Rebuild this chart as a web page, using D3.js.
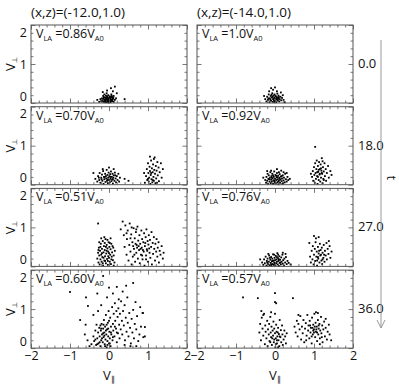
<!DOCTYPE html>
<html>
<head>
<meta charset="utf-8">
<script src="https://cdn.jsdelivr.net/npm/d3@7"></script>
<style>
  body { margin: 0; background: #fff; }
  svg { display: block; font-family: "Open Sans", sans-serif; }
</style>
</head>
<body>
<svg id="chart" width="399" height="385"></svg>
<script>
// ---- labels ----
const COLUMN_TITLES = ["(x,z)=(-12.0,1.0)", "(x,z)=(-14.0,1.0)"];
const TIMES = ["0.0", "18.0", "27.0", "36.0"];
const VLA_LEFT = ["0.86", "0.70", "0.51", "0.60"];
const VLA_RIGHT = ["1.0", "0.92", "0.76", "0.57"];
const X_TICKS = [-2, -1, 0, 1, 2];
const Y_TICKS = [0, 1, 2];

// ---- particle positions [V_par, V_perp] ----
const left_t0 = [[-0.20,0.05],[-0.18,0.12],[-0.15,0.03],[-0.15,0.18],[-0.12,0.08],[-0.12,0.22],[-0.10,0.02],[-0.10,0.14],[-0.08,0.06],[-0.08,0.19],[-0.06,0.10],[-0.06,0.25],[-0.04,0.03],[-0.04,0.15],[-0.02,0.08],[-0.02,0.20],[0.00,0.04],[0.00,0.12],[0.02,0.17],[0.02,0.07],[0.04,0.02],[0.04,0.13],[0.06,0.09],[0.06,0.22],[0.08,0.05],[0.08,0.15],[0.10,0.11],[0.12,0.03],[0.12,0.18],[0.15,0.08],[-0.22,0.10],[-0.17,0.07],[-0.13,0.15],[-0.09,0.10],[-0.07,0.02],[-0.05,0.17],[-0.03,0.11],[-0.01,0.01],[0.01,0.14],[0.03,0.10],[0.05,0.05],[0.07,0.18],[0.09,0.08],[0.11,0.13],[-0.14,0.11],[-0.11,0.05],[-0.07,0.13],[-0.03,0.06],[0.01,0.09],[0.05,0.15],[-0.25,0.03],[0.18,0.12],[-0.16,0.28],[0.10,0.30],[0.05,0.38],[-0.05,0.32],[0.20,0.25],[0.40,0.10],[-0.30,0.08],[0.15,0.42]];

const right_t0 = [[-0.25,0.10],[-0.22,0.04],[-0.20,0.16],[-0.18,0.08],[-0.16,0.22],[-0.14,0.02],[-0.13,0.12],[-0.11,0.18],[-0.10,0.06],[-0.08,0.14],[-0.07,0.25],[-0.06,0.03],[-0.05,0.10],[-0.04,0.19],[-0.03,0.07],[-0.02,0.13],[-0.01,0.22],[0.00,0.05],[0.01,0.11],[0.02,0.17],[0.03,0.02],[0.04,0.09],[0.05,0.15],[0.06,0.24],[0.07,0.06],[0.08,0.12],[0.09,0.19],[0.11,0.04],[0.12,0.10],[0.14,0.16],[0.16,0.07],[0.18,0.13],[-0.17,0.12],[-0.12,0.08],[-0.09,0.21],[-0.06,0.16],[-0.02,0.02],[0.01,0.18],[0.04,0.13],[0.07,0.09],[0.10,0.15],[-0.15,0.30],[-0.05,0.34],[0.05,0.30],[0.15,0.27],[-0.28,0.18],[0.22,0.08],[0.25,0.02],[0.00,0.40],[-0.10,0.38],[0.20,0.20]];

const left_t18 = [[-0.35,0.15],[-0.30,0.08],[-0.28,0.22],[-0.25,0.12],[-0.24,0.30],[-0.22,0.05],[-0.20,0.18],[-0.18,0.26],[-0.17,0.10],[-0.15,0.35],[-0.14,0.02],[-0.13,0.20],[-0.12,0.14],[-0.10,0.28],[-0.09,0.07],[-0.08,0.22],[-0.07,0.16],[-0.06,0.38],[-0.05,0.10],[-0.04,0.25],[-0.03,0.04],[-0.02,0.18],[-0.01,0.31],[0.00,0.12],[0.01,0.22],[0.02,0.06],[0.03,0.27],[0.04,0.15],[0.05,0.34],[0.06,0.09],[0.07,0.20],[0.08,0.13],[0.09,0.28],[0.10,0.03],[0.11,0.18],[0.12,0.24],[0.14,0.10],[0.15,0.31],[0.17,0.16],[0.18,0.06],[0.20,0.22],[0.22,0.12],[0.24,0.28],[0.26,0.08],[0.28,0.18],[-0.26,0.18],[-0.19,0.14],[-0.11,0.19],[-0.04,0.13],[0.03,0.20],[0.10,0.14],[0.16,0.24],[-0.16,0.40],[0.00,0.44],[0.12,0.40],[0.40,0.15],[0.50,0.10],[-0.40,0.30],
  [0.92,0.05],[0.95,0.22],[0.97,0.40],[0.98,0.12],[1.00,0.55],[1.01,0.30],[1.02,0.08],[1.03,0.18],[1.04,0.46],[1.05,0.35],[1.06,0.02],[1.07,0.25],[1.08,0.62],[1.09,0.14],[1.10,0.42],[1.11,0.06],[1.12,0.32],[1.13,0.52],[1.14,0.20],[1.15,0.10],[1.16,0.38],[1.17,0.70],[1.18,0.28],[1.19,0.04],[1.20,0.48],[1.21,0.16],[1.22,0.36],[1.24,0.58],[1.25,0.24],[1.27,0.44],[1.28,0.09],[1.30,0.32],[1.33,0.55],[1.35,0.18],[1.05,0.72],[1.15,0.66],[1.00,0.15],[1.12,0.12],[1.08,0.30],[1.23,0.05],[0.90,0.30],[1.38,0.40]];

const right_t18 = [[-0.25,0.12],[-0.23,0.05],[-0.22,0.20],[-0.20,0.10],[-0.19,0.28],[-0.18,0.02],[-0.17,0.15],[-0.16,0.24],[-0.14,0.08],[-0.13,0.18],[-0.12,0.32],[-0.11,0.04],[-0.10,0.13],[-0.09,0.22],[-0.08,0.08],[-0.07,0.28],[-0.06,0.16],[-0.05,0.02],[-0.04,0.11],[-0.03,0.20],[-0.02,0.34],[-0.01,0.07],[0.00,0.15],[0.01,0.25],[0.02,0.03],[0.03,0.12],[0.04,0.19],[0.05,0.30],[0.06,0.06],[0.07,0.14],[0.08,0.23],[0.09,0.01],[0.10,0.10],[0.11,0.18],[0.12,0.27],[0.13,0.05],[0.14,0.13],[0.15,0.21],[0.16,0.36],[0.17,0.09],[0.18,0.16],[0.19,0.02],[0.20,0.24],[0.22,0.11],[0.23,0.18],[0.25,0.06],[0.26,0.28],[0.28,0.14],[0.30,0.08],[0.32,0.20],[0.34,0.12],[-0.15,0.14],[-0.08,0.18],[-0.02,0.10],[0.03,0.23],[0.08,0.08],[0.12,0.15],[0.17,0.22],[0.21,0.04],[-0.05,0.24],[0.00,0.05],[0.06,0.19],[0.10,0.32],[-0.10,0.36],[0.22,0.32],[0.38,0.15],[-0.30,0.18],[0.30,0.30],[0.05,0.40],[-0.20,0.35],
  [0.95,0.20],[0.97,0.35],[0.98,0.10],[1.00,0.45],[1.01,0.25],[1.02,0.05],[1.03,0.55],[1.04,0.30],[1.05,0.15],[1.06,0.40],[1.07,0.62],[1.08,0.22],[1.09,0.02],[1.10,0.48],[1.11,0.33],[1.12,0.12],[1.13,0.58],[1.14,0.26],[1.15,0.40],[1.16,0.08],[1.17,0.52],[1.18,0.18],[1.19,0.36],[1.20,0.68],[1.21,0.28],[1.22,0.04],[1.23,0.45],[1.24,0.15],[1.25,0.34],[1.27,0.55],[1.28,0.22],[1.30,0.40],[1.31,0.10],[1.33,0.30],[1.36,0.48],[1.38,0.18],[1.42,0.35],[1.45,0.25],[1.10,0.20],[1.15,0.28],[1.20,0.30],[1.12,0.38],[1.18,0.42],[1.08,0.32],[1.25,0.12],[0.92,0.28],[1.03,0.97],[1.22,0.60]];

const left_t27 = [[-0.30,0.20],[-0.28,0.35],[-0.27,0.10],[-0.26,0.48],[-0.25,0.28],[-0.24,0.05],[-0.23,0.40],[-0.22,0.18],[-0.21,0.58],[-0.20,0.30],[-0.19,0.12],[-0.18,0.45],[-0.17,0.24],[-0.16,0.65],[-0.15,0.02],[-0.14,0.36],[-0.13,0.52],[-0.12,0.15],[-0.11,0.42],[-0.10,0.26],[-0.09,0.70],[-0.08,0.08],[-0.07,0.33],[-0.06,0.55],[-0.05,0.19],[-0.04,0.46],[-0.03,0.04],[-0.02,0.38],[-0.01,0.62],[0.00,0.22],[0.01,0.50],[0.02,0.12],[0.03,0.30],[0.04,0.44],[0.05,0.06],[0.06,0.58],[0.07,0.25],[0.08,0.36],[0.10,0.16],[0.11,0.48],[0.12,0.28],[0.14,0.10],[0.15,0.40],[-0.25,0.62],[-0.20,0.72],[-0.12,0.75],[-0.04,0.68],[0.04,0.72],[-0.18,0.34],[-0.10,0.14],[-0.06,0.40],[-0.02,0.26],[0.02,0.60],[0.06,0.18],[-0.14,0.22],[-0.08,0.50],[0.00,0.34],[-0.22,0.50],[-0.16,0.08],[0.09,0.52],[-0.27,0.42],[0.12,0.02],[-0.03,0.14],[-0.11,0.60],
  [0.30,0.95],[0.35,1.15],[0.38,0.80],[0.40,0.50],[0.42,1.05],[0.45,0.30],[0.46,0.70],[0.48,0.92],[0.50,0.15],[0.52,0.55],[0.53,1.10],[0.55,0.38],[0.57,0.82],[0.58,0.05],[0.60,0.62],[0.61,0.25],[0.63,0.98],[0.64,0.45],[0.66,0.72],[0.67,0.12],[0.69,0.88],[0.70,0.35],[0.71,0.55],[0.73,1.02],[0.74,0.20],[0.75,0.66],[0.77,0.42],[0.78,0.80],[0.79,0.08],[0.80,0.58],[0.82,0.30],[0.83,0.92],[0.84,0.48],[0.85,0.70],[0.86,0.18],[0.88,0.62],[0.89,0.38],[0.90,0.85],[0.91,0.02],[0.92,0.52],[0.94,0.75],[0.95,0.28],[0.96,0.95],[0.97,0.44],[0.99,0.65],[1.00,0.12],[1.01,0.56],[1.02,0.80],[1.04,0.35],[1.05,0.68],[1.06,0.22],[1.08,0.50],[1.09,0.88],[1.10,0.05],[1.12,0.60],[1.13,0.32],[1.15,0.75],[1.16,0.45],[1.18,0.15],[1.19,0.58],[1.21,0.38],[1.22,0.70],[1.24,0.25],[1.25,0.48],[1.27,0.62],[1.28,0.10],[1.30,0.40],[1.32,0.30],[1.35,0.52],[1.38,0.20],[1.40,0.35],[0.62,0.52],[0.68,0.58],[0.72,0.48],[0.76,0.52],[0.81,0.45],[0.87,0.42],[0.93,0.60],[0.98,0.40],[1.03,0.46],[0.55,0.72],[0.65,0.30],[0.85,0.28],[0.95,0.18],[0.70,0.95],[0.58,1.00],[0.45,0.85],[-0.28,1.10]];

const right_t27 = [[-0.33,0.10],[-0.30,0.04],[-0.28,0.18],[-0.26,0.08],[-0.24,0.25],[-0.22,0.02],[-0.21,0.14],[-0.19,0.20],[-0.18,0.06],[-0.16,0.12],[-0.15,0.28],[-0.14,0.03],[-0.12,0.17],[-0.11,0.09],[-0.10,0.24],[-0.09,0.01],[-0.08,0.13],[-0.07,0.20],[-0.06,0.06],[-0.05,0.31],[-0.04,0.15],[-0.03,0.04],[-0.02,0.10],[-0.01,0.22],[0.00,0.16],[0.01,0.02],[0.02,0.27],[0.03,0.08],[0.04,0.18],[0.05,0.12],[0.06,0.34],[0.07,0.05],[0.08,0.21],[0.09,0.14],[0.10,0.01],[0.11,0.26],[0.12,0.09],[0.13,0.17],[0.15,0.05],[0.16,0.23],[0.17,0.12],[0.19,0.30],[0.20,0.07],[0.21,0.16],[0.23,0.02],[0.24,0.20],[0.26,0.10],[0.28,0.24],[0.30,0.06],[0.32,0.14],[0.35,0.09],[-0.20,0.10],[-0.13,0.22],[-0.06,0.14],[0.00,0.08],[0.05,0.24],[0.10,0.18],[0.14,0.10],[-0.10,0.05],[-0.02,0.30],[0.08,0.30],[-0.17,0.32],[0.20,0.35],[0.27,0.32],[-0.38,0.18],[0.40,0.05],
  [0.90,0.25],[0.92,0.10],[0.94,0.40],[0.96,0.18],[0.97,0.52],[0.99,0.05],[1.00,0.30],[1.02,0.45],[1.03,0.14],[1.04,0.62],[1.06,0.25],[1.07,0.38],[1.08,0.02],[1.10,0.50],[1.11,0.20],[1.12,0.33],[1.14,0.10],[1.15,0.58],[1.16,0.28],[1.17,0.42],[1.19,0.15],[1.20,0.48],[1.21,0.06],[1.22,0.35],[1.24,0.22],[1.25,0.55],[1.27,0.12],[1.28,0.40],[1.30,0.28],[1.32,0.60],[1.33,0.18],[1.35,0.45],[1.37,0.32],[1.40,0.52],[1.42,0.22],[1.45,0.38],[1.05,0.72],[1.12,0.75],[1.00,0.78],[1.18,0.30],[1.10,0.24],[1.13,0.40],[1.22,0.18],[1.08,0.15],[1.26,0.30],[0.88,0.60],[1.38,0.65]];

const left_t36 = [[-0.40,0.30],[-0.38,0.18],[-0.35,0.45],[-0.33,0.08],[-0.32,0.60],[-0.30,0.25],[-0.28,0.40],[-0.27,0.12],[-0.25,0.52],[-0.24,0.30],[-0.22,0.05],[-0.21,0.45],[-0.20,0.20],[-0.19,0.62],[-0.18,0.35],[-0.16,0.15],[-0.15,0.50],[-0.14,0.28],[-0.13,0.72],[-0.12,0.40],[-0.11,0.10],[-0.10,0.55],[-0.09,0.22],[-0.08,0.85],[-0.07,0.35],[-0.06,0.02],[-0.05,0.48],[-0.04,0.18],[-0.03,0.65],[-0.02,0.30],[-0.01,0.95],[0.00,0.12],[0.01,0.42],[0.02,0.25],[0.03,0.78],[0.04,0.05],[0.05,0.55],[0.06,0.35],[0.08,1.05],[0.09,0.20],[0.10,0.62],[0.11,0.45],[0.12,0.88],[0.14,0.30],[0.15,1.15],[0.16,0.70],[0.18,0.50],[0.19,0.95],[0.20,0.15],[0.22,0.80],[0.23,0.38],[0.24,1.02],[0.26,0.60],[0.27,0.25],[0.28,0.88],[0.30,0.48],[0.31,1.20],[0.33,0.70],[0.34,0.35],[0.36,0.95],[0.38,0.58],[0.40,1.10],[0.41,0.20],[0.43,0.78],[0.45,0.42],[0.47,1.30],[0.48,0.65],[0.50,0.30],[0.52,0.90],[0.54,0.52],[0.56,0.12],[0.58,0.75],[0.60,0.40],[0.62,0.98],[0.64,0.25],[0.66,0.62],[0.70,0.48],[0.72,0.82],[0.75,0.18],[0.78,0.35],[0.82,0.55],[0.86,0.90],[0.92,0.54],[0.88,0.28],[0.80,1.05],[0.68,1.18],[-0.02,0.50],[-0.08,0.45],[-0.14,0.60],[-0.20,0.50],[-0.06,0.60],[0.00,0.70],[0.05,0.40],[-0.12,0.32],[-0.18,0.25],[-0.24,0.15],[-0.30,0.10],[-0.10,0.05],[-0.04,0.08],[0.02,0.12],[-0.15,0.38],[-0.22,0.58],[0.10,0.28],[0.15,0.55],[0.20,0.40],[-0.35,0.22],[-0.45,0.10],[-0.50,0.05],[-0.55,0.20],[-0.62,0.35],[-0.74,0.72],[-0.54,1.08],[-0.59,1.30],[-1.00,1.44],[-0.30,1.40],[-0.15,1.85],[0.44,1.60],[0.20,1.57],[0.62,1.67],[0.35,1.45],[-0.05,1.30],[0.10,1.40],[0.25,1.25],[-0.20,1.10],[-0.40,0.85],[-0.28,0.95],[0.87,0.90],[0.92,0.30],[0.70,0.05],[0.55,0.05],[0.40,0.08],[-0.60,0.60],[0.00,1.55]];

const right_t36 = [[-0.40,0.40],[-0.38,0.62],[-0.36,0.20],[-0.34,0.78],[-0.32,0.50],[-0.30,0.32],[-0.28,0.88],[-0.26,0.10],[-0.25,0.58],[-0.24,0.42],[-0.22,0.25],[-0.20,0.70],[-0.19,0.05],[-0.18,0.48],[-0.16,0.35],[-0.15,0.62],[-0.14,0.18],[-0.12,0.80],[-0.11,0.40],[-0.10,0.28],[-0.09,0.55],[-0.08,0.08],[-0.06,0.45],[-0.05,0.32],[-0.04,0.68],[-0.03,0.15],[-0.02,0.50],[0.00,0.38],[0.01,0.02],[0.02,0.25],[0.03,0.60],[0.04,0.42],[0.05,0.12],[0.06,0.30],[0.08,0.52],[0.09,0.20],[0.10,0.36],[0.11,0.05],[0.12,0.72],[0.14,0.28],[0.15,0.46],[0.16,0.15],[0.18,0.58],[0.19,0.35],[0.20,0.08],[0.22,0.22],[0.24,0.45],[0.26,0.30],[0.28,0.12],[0.30,0.38],[-0.02,0.22],[0.05,0.20],[0.07,0.40],[-0.07,0.25],[0.12,0.30],[0.02,0.10],[-0.12,0.15],[0.08,0.02],[-0.30,0.85],[0.00,0.88],
  [0.50,0.55],[0.53,0.40],[0.56,0.70],[0.58,0.30],[0.60,0.62],[0.63,0.48],[0.65,0.82],[0.67,0.22],[0.69,0.55],[0.71,0.38],[0.73,0.72],[0.75,0.15],[0.77,0.50],[0.79,0.64],[0.81,0.32],[0.83,0.85],[0.85,0.45],[0.86,0.58],[0.88,0.25],[0.89,0.70],[0.91,0.40],[0.92,0.52],[0.94,0.12],[0.95,0.78],[0.97,0.35],[0.98,0.60],[1.00,0.48],[1.01,0.88],[1.03,0.28],[1.04,0.65],[1.05,0.42],[1.07,0.55],[1.08,0.18],[1.10,0.72],[1.11,0.35],[1.12,0.50],[1.14,0.62],[1.15,0.25],[1.16,0.45],[1.18,0.80],[1.19,0.38],[1.21,0.58],[1.22,0.15],[1.24,0.48],[1.26,0.68],[1.28,0.30],[1.30,0.52],[1.33,0.22],[1.35,0.42],[1.38,0.60],[1.40,0.35],[1.44,0.20],[1.00,0.40],[0.96,0.52],[1.02,0.55],[1.06,0.48],[0.90,0.58],[1.08,0.40],[0.98,0.45],[1.12,0.58],[0.94,0.30],[1.20,0.28],[0.80,0.20],[1.15,0.10],[1.05,0.92],[1.10,0.90],[1.30,0.75],[0.60,0.85],
  [-0.82,1.30],[-0.44,1.28],[0.00,1.41],[0.00,1.18],[0.03,1.15],[0.46,1.28],[-0.35,0.95],[-0.10,0.92]];

const PANELS = [
  [left_t0, right_t0],
  [left_t18, right_t18],
  [left_t27, right_t27],
  [left_t36, right_t36]
];

// ---- layout ----
const svg = d3.select("#chart");
const colX = [31, 197];
const top0 = 25, rowPitch = 81.7;
const pw = 156, ph = 78;
const FONT = 13;

const x = d3.scaleLinear().domain([-2, 2]).range([0, pw]);
const y = d3.scaleLinear().domain([0, 2]).range([ph, 0]);
const minorX = d3.range(-10, 11).map(i => i / 5).filter(v => !Number.isInteger(v));
const minorY = d3.range(0, 11).map(i => i / 5).filter(v => !Number.isInteger(v));

function tickSet(g, axisFn, scale, values, size, labeled, pad) {
  const ax = axisFn(scale).tickValues(values).tickSizeInner(-size).tickSizeOuter(0).tickPadding(pad || 4);
  ax.tickFormat(labeled ? d3.format("d") : "");
  const s = g.append("g").call(ax);
  s.select(".domain").remove();
  s.attr("font-family", null).attr("font-size", FONT);
  s.selectAll("line").attr("stroke", "#555").attr("stroke-width", 0.8);
  s.selectAll("text").attr("fill", "#111");
  return s;
}

function subLabel(t, parts, subSize, shift) {
  // parts: [text, isSub]
  const d = shift || 3;
  let shifted = false;
  parts.forEach(([str, sub]) => {
    const ts = t.append("tspan").text(str);
    if (sub) ts.attr("font-size", subSize || 7.5);
    if (sub && !shifted) { ts.attr("dy", d); shifted = true; }
    else if (!sub && shifted) { ts.attr("dy", -d); shifted = false; }
  });
}

// column titles
COLUMN_TITLES.forEach((t, c) => {
  svg.append("text").attr("x", colX[c]).attr("y", 17)
    .attr("font-size", 13.5).attr("fill", "#111").text(t);
});

PANELS.forEach((row, r) => {
  const py = top0 + r * rowPitch;
  row.forEach((pts, c) => {
    const g = svg.append("g").attr("transform", `translate(${colX[c]},${py})`);
    const bottomRow = r === PANELS.length - 1;

    // dots
    g.append("g").selectAll("rect").data(pts).enter().append("rect")
      .attr("x", d => x(d[0]) - 0.9).attr("y", d => y(d[1]) - 0.9)
      .attr("width", 1.8).attr("height", 1.8).attr("fill", "#000");

    // ticks on all four sides, pointing inward
    const bot = g.append("g").attr("transform", `translate(0,${ph})`);
    tickSet(bot, d3.axisBottom, x, X_TICKS, 4.5, bottomRow, 3).attr("font-size", 12.5);
    tickSet(bot, d3.axisBottom, x, minorX, 2.5, false);
    tickSet(g, d3.axisTop, x, X_TICKS, 4.5, false);
    tickSet(g, d3.axisTop, x, minorX, 2.5, false);
    const yl = tickSet(g, d3.axisLeft, y, Y_TICKS, 4.5, c === 0);
    // end labels sit just inside the frame, as in the source figure
    yl.attr("font-size", 12.5);
    yl.selectAll(".tick text").attr("dy", v => v === 0 ? "-3px" : v === 2 ? "11px" : "0.32em");
    tickSet(g, d3.axisLeft, y, minorY, 2.5, false);
    const rt = g.append("g").attr("transform", `translate(${pw},0)`);
    tickSet(rt, d3.axisRight, y, Y_TICKS, 4.5, false);
    tickSet(rt, d3.axisRight, y, minorY, 2.5, false);

    g.append("rect").attr("width", pw).attr("height", ph)
      .attr("fill", "none").attr("stroke", "#555").attr("stroke-width", 1);

    // V_LA label
    const vla = c === 0 ? VLA_LEFT[r] : VLA_RIGHT[r];
    const lab = g.append("text").attr("x", 5).attr("y", 13)
      .attr("font-size", 12.5).attr("fill", "#111");
    subLabel(lab, [["V", false], ["LA", true], [" =" + vla + "V", false], ["A0", true]]);

    // y title on left column
    if (c === 0) {
      const yt = svg.append("text")
        .attr("transform", `translate(15,${py + ph / 2}) rotate(-90)`)
        .attr("text-anchor", "middle").attr("font-size", FONT).attr("fill", "#111");
      subLabel(yt, [["V", false], ["\u22A5", true]], 7, 2);
    }

    // x title under bottom row
    if (bottomRow) {
      const xt = svg.append("text")
        .attr("x", colX[c] + x(0)).attr("y", 380)
        .attr("text-anchor", "middle").attr("font-size", FONT).attr("fill", "#111");
      subLabel(xt, [["V", false], ["\u2225", true]], 7.5, 2);
    }
  });

  // time label
  svg.append("text").attr("x", 358).attr("y", py + ph / 2 + 4)
    .attr("font-size", FONT).attr("fill", "#111").text(TIMES[r]);
});

// time arrow
const ax = 381;
svg.append("line").attr("x1", ax).attr("x2", ax).attr("y1", 40).attr("y2", 328)
  .attr("stroke", "#999").attr("stroke-width", 1);
svg.append("path").attr("d", `M${ax - 4},${320} L${ax},${328} L${ax + 4},${320}`)
  .attr("fill", "none").attr("stroke", "#999").attr("stroke-width", 1);
svg.append("text").attr("transform", `translate(387,178) rotate(90)`)
  .attr("text-anchor", "middle").attr("font-size", 12).attr("fill", "#111").text("t");
</script>
</body>
</html>
